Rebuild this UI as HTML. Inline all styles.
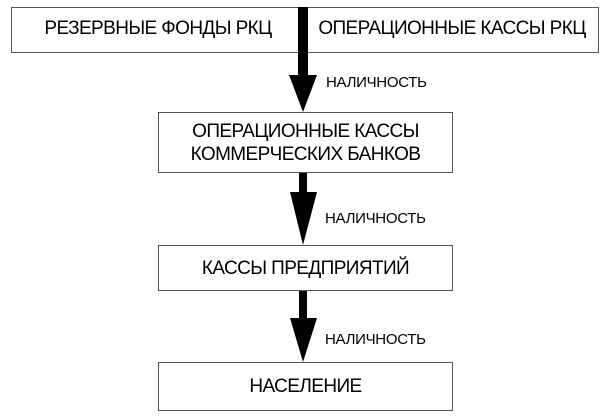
<!DOCTYPE html>
<html><head><meta charset="utf-8"><style>
body{margin:0;width:605px;height:419px;background:#fff;position:relative;overflow:hidden;font-family:"Liberation Sans","DejaVu Sans",sans-serif;}
.b{position:absolute;border:1px solid #555;box-sizing:border-box;background:#fff;display:flex;align-items:center;justify-content:center;text-align:center;font-size:19px;color:#000;letter-spacing:-0.6px;line-height:23px;}
.t{position:absolute;font-size:19px;letter-spacing:-0.6px;text-align:center;white-space:nowrap;}
.l{position:absolute;font-size:15px;letter-spacing:-0.3px;}
svg{position:absolute;left:0;top:0;}
</style></head><body>
<div class="b" style="left:11px;top:7px;width:588px;height:46px;"></div>
<div class="t" style="left:20px;top:18px;width:276px;">РЕЗЕРВНЫЕ ФОНДЫ РКЦ</div>
<div class="t" style="left:310px;top:18px;width:284px;">ОПЕРАЦИОННЫЕ КАССЫ РКЦ</div>
<div class="b" style="left:158px;top:112px;width:295px;height:61px;">ОПЕРАЦИОННЫЕ КАССЫ<br>КОММЕРЧЕСКИХ БАНКОВ</div>
<div class="b" style="left:158px;top:245px;width:295px;height:46px;">КАССЫ ПРЕДПРИЯТИЙ</div>
<div class="b" style="left:158px;top:362px;width:295px;height:49px;">НАСЕЛЕНИЕ</div>
<svg width="605" height="419">
<polygon points="298,7 308,7 308,75 317,75 303,112 289,75 298,75" fill="#000"/>
<polygon points="299,173 307,173 307,192 317,192 303,245 290,192 299,192" fill="#000"/>
<polygon points="299,291 307,291 307,318 317,318 303,362 290,318 299,318" fill="#000"/>
</svg>
<div class="l" style="left:326px;top:74px;">НАЛИЧНОСТЬ</div>
<div class="l" style="left:325px;top:210px;">НАЛИЧНОСТЬ</div>
<div class="l" style="left:325px;top:331px;">НАЛИЧНОСТЬ</div>
</body></html>
